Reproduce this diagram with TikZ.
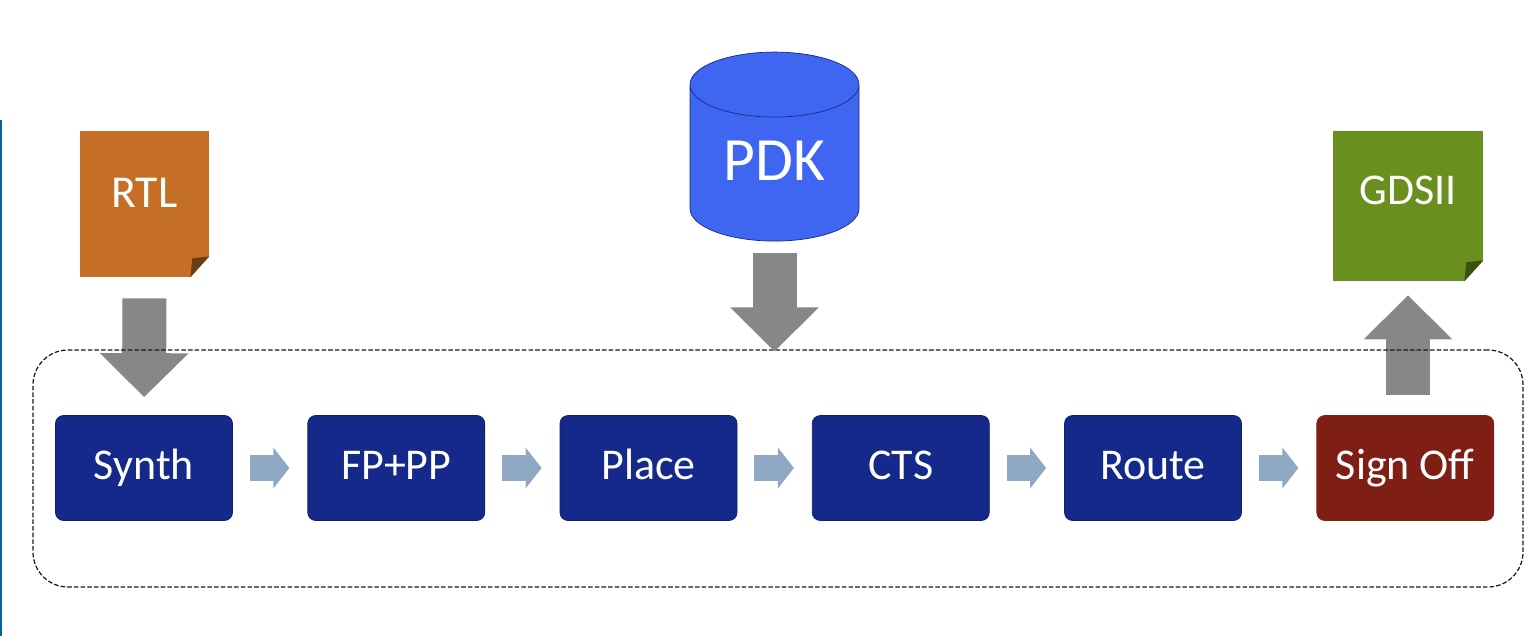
\documentclass[tikz,border=0pt]{standalone}
\usepackage{fontspec}
\setmainfont{Carlito}
\usepackage{tikz}
\usetikzlibrary{arrows.meta}
\usetikzlibrary{positioning}
\usetikzlibrary{shapes.geometric}
\definecolor{stepblue}{HTML}{15298A}
\definecolor{stepedge}{HTML}{0E1E6C}
\definecolor{stepred}{HTML}{7E1E14}
\definecolor{rtlorange}{HTML}{C46F25}
\definecolor{gdsgreen}{HTML}{698F1F}
\definecolor{pdkblue}{HTML}{3F66F0}
\definecolor{bigarrow}{HTML}{878787}
\definecolor{smallarrow}{HTML}{8FA9C4}
\tikzstyle{every node}+=[inner sep=0pt]
\tikzstyle{block} = [rectangle, fill=stepblue, draw=stepedge, text=white, font=\fontsize{25}{25}\selectfont, rounded corners=0.16cm, minimum width=3.54cm, minimum height=2.1cm, text height=0.6cm, text depth=0.125cm]
\tikzstyle{doc} = [rectangle, text=white, font=\fontsize{26}{26}\selectfont]
\tikzstyle{store} = [cylinder, shape border rotate=90, aspect=0.64, cylinder uses custom fill, cylinder body fill=pdkblue, cylinder end fill=pdkblue, draw=stepblue, text=white, font=\fontsize{35}{35}\selectfont, minimum width=3.38cm, minimum height=3.78cm, text height=0.68cm]
\tikzstyle{group} = [rectangle, draw=black!90, line width=0.7pt, dash pattern=on 2.6pt off 1.2pt, rounded corners=0.7cm, minimum width=29.8cm, minimum height=4.74cm]
\tikzstyle{line} = [draw=smallarrow, line width=0.52cm, -{Triangle[length=0.32cm, width=0.8cm]}, shorten <=0.34cm, shorten >=0.36cm]
\tikzstyle{feed} = [draw=bigarrow, line width=0.88cm, -{Triangle[length=0.88cm, width=1.72cm]}]
\newcommand{\foldcorner}[2]{%
  \fill [white] (#1.south east) ++(-0.38cm,0) -- (#1.south east) -- ++(0,0.42cm) -- cycle;
  \fill [#2] (#1.south east) ++(-0.38cm,0) -- ++(0.38cm,0.42cm) -- ++(-0.34cm,-0.04cm) -- cycle;
}
\begin{document}
\begin{tikzpicture}[node distance = 5.045cm]
  \useasboundingbox (0,0) rectangle (30.72,12.72);
  % Left edge
  \draw [line width=0.05cm, color=stepedge!70!cyan] (0.02,10.32) -- (0.02,0);
  % Place nodes
  \node [block] (synth) at (2.88,3.36) {Synth};
  \node [block, right of=synth] (fppp) {FP+PP};
  \node [block, right of=fppp] (place) {Place};
  \node [block, right of=place] (cts) {CTS};
  \node [block, right of=cts] (route) {Route};
  \node [block, right of=route, fill=stepred, draw=stepred] (signoff) {Sign Off};
  \node [doc, fill=rtlorange, minimum width=2.58cm, minimum height=2.92cm, text depth=0.44cm] (rtl) at (2.89,8.64) {RTL};
  \node [doc, fill=gdsgreen, minimum width=3cm, minimum height=3cm, text depth=0.64cm, font=\fontsize{25}{25}\selectfont] (gds) at (28.16,8.6) {GDSII};
  \node [store] (pdk) at (15.49,9.46) {PDK};
  \foldcorner{rtl}{rtlorange!55!black}
  \foldcorner{gds}{gdsgreen!55!black}
  % Draw edges
  \path [line] (synth) -- (fppp);
  \path [line] (fppp) -- (place);
  \path [line] (place) -- (cts);
  \path [line] (cts) -- (route);
  \path [line] (route) -- (signoff);
  \path [feed, shorten <=0.42cm, shorten >=0.36cm] (rtl.south) -- (synth.north);
  \path [feed, shorten <=0.4cm, shorten >=0.28cm] (gds.south |- signoff.north) -- (gds.south);
  \node [group] (flow) at (15.56,3.35) {};
  \path [feed, shorten <=0.24cm, shorten >=-0.04cm] (pdk.south) -- (pdk.south |- flow.north);
\end{tikzpicture}
\end{document}
